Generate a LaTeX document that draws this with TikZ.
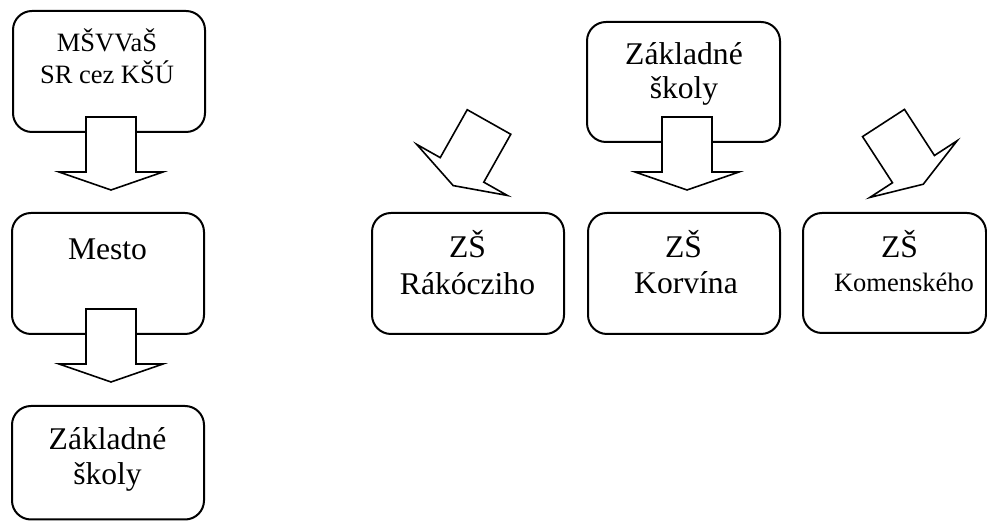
\documentclass[tikz,border=0pt]{standalone}
\usepackage{fontspec}
\setmainfont{Liberation Serif}
\usetikzlibrary{calc, positioning}
\tikzset{
    boxNode/.style={draw, rectangle, rounded corners=19pt, line width=2pt, minimum width=192pt, minimum height=121pt, inner sep=0pt},
    lineBig/.style={anchor=base, inner sep=0pt, font=\fontsize{31.6}{36}\selectfont},
    lineSmall/.style={anchor=base, inner sep=0pt, font=\fontsize{26.5}{30}\selectfont},
    blockArrow/.style={draw, fill=white, line width=1.6pt, line join=miter},
}
\newcommand{\drawBlockArrow}[2]{
    % shaft 50 wide, 55 long; head 104 wide, 18 long
    \draw[blockArrow, shift={(#1)}, rotate=#2] (0,25) -- (55,25) -- (55,52) -- (73,0) -- (55,-52) -- (55,-25) -- (0,-25) -- cycle;
}

\begin{document}
\begin{tikzpicture}[x=1pt, y=1pt]
    \useasboundingbox (0,0) rectangle (987,521);

    % left column
    \node[boxNode] (ministerstvo) at (109,449.5) {};
    \node[lineSmall] (ministerstvoA) at (107,469) {MŠVVaŠ};
    \node[lineSmall] (ministerstvoB) at (107,437) {SR cez KŠÚ};

    \node[boxNode] (mesto) at (108,247.5) {};
    \node[lineBig] (mestoA) at (107.5,261) {Mesto};

    \node[boxNode, minimum height=113.5pt] (skolyL) at (108,58.25) {};
    \node[lineBig] (skolyLA) at (107.5,71) {Základné};
    \node[lineBig] (skolyLB) at (107.5,36) {školy};

    % right part
    \node[boxNode, minimum width=193pt, minimum height=120pt] (skolyR) at (683.5,439) {};
    \node[lineBig] (skolyRA) at (684,456) {Základné};
    \node[lineBig] (skolyRB) at (684,422) {školy};

    \node[boxNode] (rakoczi) at (468,247.5) {};
    \node[lineBig] (rakocziA) at (467.5,263) {ZŠ};
    \node[lineBig] (rakocziB) at (467.5,226) {Rákócziho};

    \node[boxNode] (korvin) at (684,247.5) {};
    \node[lineBig] (korvinA) at (683.5,263) {ZŠ};
    \node[lineBig] (korvinB) at (686,227) {Korvína};

    \node[boxNode, minimum width=183pt, minimum height=120pt] (komensky) at (894.5,248) {};
    \node[lineBig] (komenskyA) at (899.5,263) {ZŠ};
    \node[lineSmall] (komenskyB) at (904,229) {Komenského};

    % block arrows
    \coordinate (arrowA) at (111,404);
    \coordinate (arrowB) at (111,212);
    \coordinate (arrowC) at (687,404);
    \coordinate (arrowD) at (489,399);
    \coordinate (arrowE) at (883.5,398);
    \drawBlockArrow{arrowA}{-90}
    \drawBlockArrow{arrowB}{-90}
    \drawBlockArrow{arrowC}{-90}
    \drawBlockArrow{arrowD}{-119.4}
    \drawBlockArrow{arrowE}{-57}

\end{tikzpicture}
\end{document}
